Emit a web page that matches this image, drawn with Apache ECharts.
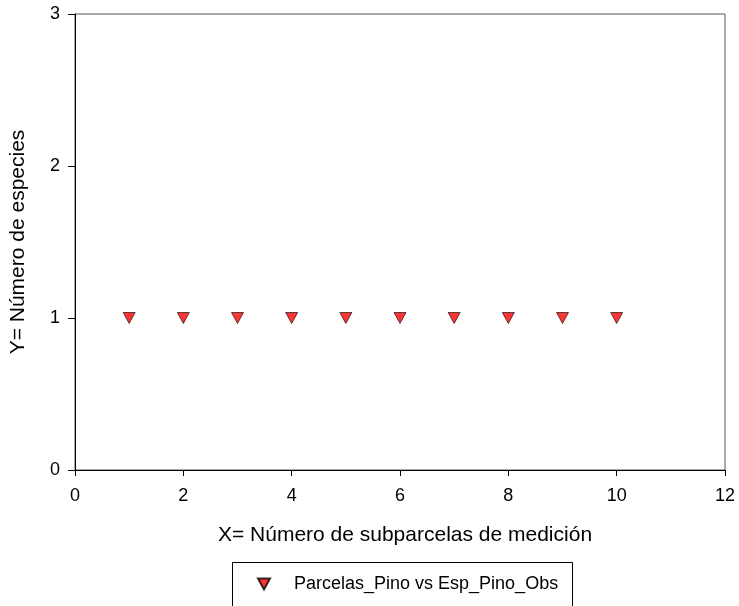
<!DOCTYPE html>
<html>
<head>
<meta charset="utf-8">
<script src="https://cdn.jsdelivr.net/npm/echarts@6/dist/echarts.min.js"></script>
<style>
html,body{margin:0;padding:0;background:#fff;}
#chart{width:739px;height:606px;}
</style>
</head>
<body>
<div id="chart"></div>
<script>
const seriesName = 'Parcelas_Pino vs Esp_Pino_Obs';
const xValues = [1, 2, 3, 4, 5, 6, 7, 8, 9, 10];
const yValues = [1, 1, 1, 1, 1, 1, 1, 1, 1, 1];
const xTitle = 'X= Número de subparcelas de medición';
const yTitle = 'Y= Número de especies';

const tri = 'path://M0,0 L10,0 L5,9 Z';
const font = 'Liberation Sans, Arial, sans-serif';
const chart = echarts.init(document.getElementById('chart'), null, {renderer: 'canvas'});
chart.setOption({
  animation: false,
  backgroundColor: '#fff',
  grid: {left: 75, right: 14, top: 14, bottom: 136, show: true, borderColor: '#555', borderWidth: 1},
  xAxis: {
    type: 'value', min: 0, max: 12, interval: 2,
    name: xTitle, nameLocation: 'middle', nameGap: 55,
    nameTextStyle: {fontFamily: font, fontSize: 21, color: '#000', padding: [0, 0, 0, 10]},
    axisLine: {onZero: false, lineStyle: {color: '#000', width: 1}},
    axisTick: {show: true, length: 6, lineStyle: {color: '#000'}},
    axisLabel: {fontFamily: font, fontSize: 18, color: '#000', margin: 17},
    splitLine: {show: false}
  },
  yAxis: {
    type: 'value', min: 0, max: 3, interval: 1,
    name: yTitle, nameLocation: 'middle', nameGap: 46,
    nameTextStyle: {fontFamily: font, fontSize: 21, color: '#000'},
    axisLine: {onZero: false, lineStyle: {color: '#000', width: 1}},
    axisTick: {show: true, length: 7, lineStyle: {color: '#000'}},
    axisLabel: {fontFamily: font, fontSize: 18, color: '#000', margin: 15},
    splitLine: {show: false}
  },
  legend: {
    left: 257, top: 575, padding: 0,
    itemWidth: 12, itemHeight: 11,
    icon: tri,
    textStyle: {fontFamily: font, fontSize: 18, color: '#000', padding: [0, 0, 0, 19]},
    data: [seriesName]
  },
  graphic: [{
    type: 'rect', left: 230, top: 560, silent: true,
    shape: {width: 340, height: 60},
    style: {fill: 'none', stroke: '#000', lineWidth: 1}
  }],
  series: [{
    name: seriesName, type: 'scatter',
    symbol: tri, symbolSize: [12, 11],
    itemStyle: {color: '#ff0000', borderColor: '#000', borderWidth: 0.8},
    data: xValues.map((x, i) => [x, yValues[i]])
  }]
});
</script>
</body>
</html>
